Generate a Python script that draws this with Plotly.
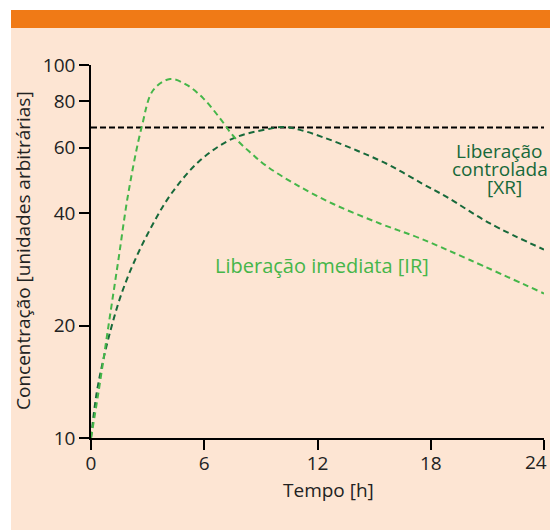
import plotly.graph_objects as go

# Data
ir_t = [0, 0.39, 0.92, 1.45, 1.98, 2.68, 3.3, 4.19, 5.07, 5.95, 6.83, 7.54, 8.4, 9.3, 10.8, 12.84, 15.3, 17.43, 20.08, 24]
ir_c = [10, 13.2, 19.9, 30, 45.4, 68, 85.7, 91.7, 88.4, 81.4, 72, 64.5, 58.5, 53.6, 48.0, 42.4, 37.6, 34.3, 30, 24.4]

xr_t = [0, 0.3, 0.65, 1.09, 1.62, 2.33, 3.21, 4.27, 5.8, 7.54, 9.3, 10.2, 11.07, 12.3, 14.08, 15.84, 17.6, 18.84, 21.14, 24]
xr_c = [10, 13.2, 16.2, 19.9, 24.4, 30, 36.9, 45.3, 55.6, 63.6, 67.2, 68.2, 67.0, 64.0, 59.0, 53.8, 47.9, 44.3, 37.6, 32]

ref_t = [0, 24.1]
ref_c = [68, 68]

x_ticks = [0, 6, 12, 18, 24]
x_tick_labels = ["0", "6", "12", "18", "24"]
y_ticks = [10, 20, 40, 60, 80, 100]
y_tick_labels = ["10", "20", "40", "60", "80", "100"]

PEACH = "#fde5d3"
ORANGE = "#f07a16"
LIGHT_GREEN = "#45b649"
DARK_GREEN = "#17693a"
TEXT = "#222222"
FONT = "Open Sans"

fig = go.Figure()
fig.add_trace(go.Scatter(x=ref_t, y=ref_c, mode="lines",
                         line=dict(color="black", width=2, dash="6px,3px"),
                         cliponaxis=False, hoverinfo="skip"))
fig.add_trace(go.Scatter(x=xr_t, y=xr_c, mode="lines", line_shape="spline",
                         line=dict(color=DARK_GREEN, width=2, dash="6px,4px")))
fig.add_trace(go.Scatter(x=ir_t, y=ir_c, mode="lines", line_shape="spline",
                         line=dict(color=LIGHT_GREEN, width=2, dash="6px,4px")))

L, R, T, B = 91, 6, 65, 92
W, H = 550, 530
pw, ph = W - L - R, H - T - B


def px(x):
    return (x - L) / pw


def py(y):
    return (H - B - y) / ph


shapes = [
    dict(type="rect", xref="paper", yref="paper", x0=px(0), x1=px(11), y0=py(H), y1=py(0),
         fillcolor="white", line_width=0, layer="below"),
    dict(type="rect", xref="paper", yref="paper", x0=px(0), x1=px(W), y0=py(10), y1=py(0),
         fillcolor="white", line_width=0, layer="below"),
    dict(type="rect", xref="paper", yref="paper", x0=px(11), x1=px(W), y0=py(28), y1=py(10),
         fillcolor=ORANGE, line_width=0, layer="below"),
]


def label(text, x, y, size, color, **kw):
    d = dict(text=text, x=px(x), y=py(y), xref="paper", yref="paper", showarrow=False,
             xanchor="center", yanchor="middle", font=dict(family=FONT, size=size, color=color))
    d.update(kw)
    return d


annotations = [
    label("Liberação imediata [IR]", 322, 265, 20, LIGHT_GREEN),
    label("Liberação", 499, 151, 19, DARK_GREEN),
    label("controlada", 500, 169, 19, DARK_GREEN),
    label("[XR]", 504, 187, 19, DARK_GREEN),
    label("Tempo [h]", 328, 490, 19, TEXT),
    label("Concentração [unidades arbitrárias]", 23, 251, 19, TEXT, textangle=-90),
    dict(text=x_tick_labels[-1], x=x_ticks[-1], xref="x", y=py(462), yref="paper",
         xanchor="right", yanchor="middle", xshift=5, showarrow=False,
         font=dict(family=FONT, size=19, color=TEXT)),
]

fig.update_layout(
    width=W, height=H,
    margin=dict(l=L, r=R, t=T, b=B, autoexpand=False),
    paper_bgcolor=PEACH, plot_bgcolor=PEACH,
    showlegend=False,
    shapes=shapes, annotations=annotations,
    font=dict(family=FONT, size=19, color=TEXT),
)
fig.update_xaxes(range=[0, 24], tickvals=x_ticks, ticktext=x_tick_labels[:-1] + [""],
                 ticks="outside", ticklen=10, tickwidth=1.5, ticklabelstandoff=-3,
                 tickcolor="black", showline=True, linecolor="black", linewidth=1.5,
                 showgrid=False, zeroline=False, automargin=False,
                 tickfont=dict(size=19, family=FONT, color=TEXT))
fig.update_yaxes(type="log", range=[1, 2], tickvals=y_ticks, ticktext=y_tick_labels,
                 ticks="outside", ticklen=10, tickwidth=1.5,
                 tickcolor="black", showline=True, linecolor="black", linewidth=1.5,
                 showgrid=False, zeroline=False, automargin=False,
                 tickfont=dict(size=19, family=FONT, color=TEXT))

fig.write_html("out.html", config={"displayModeBar": False},
               post_script="document.body.style.margin='0';document.body.style.overflow='hidden';")
